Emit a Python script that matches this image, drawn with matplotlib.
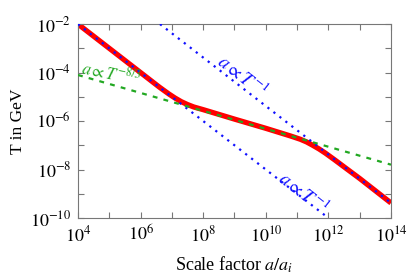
import numpy as np
import matplotlib
matplotlib.use('Agg')
import matplotlib.pyplot as plt

plt.rcParams['font.family'] = ['Liberation Serif', 'DejaVu Serif']
plt.rcParams['mathtext.fontset'] = 'stix'

red_loga = [4, 5, 6, 6.6, 6.9, 7.1, 7.3, 7.5, 7.7, 8, 9, 10, 10.8, 11.1, 11.3,
            11.5, 11.7, 11.9, 12.2, 12.5, 13, 14]
red_logT = [-2, -3, -4, -4.6, -4.88, -5.05, -5.2, -5.32, -5.42, -5.53, -5.92, -6.3,
            -6.62, -6.75, -6.86, -7.0, -7.15, -7.32, -7.6, -7.89, -8.37, -9.38]

# blue dotted guides a ~ T^-1, green dashed guide a ~ T^-8/3
blue1_loga = [4, 12]
blue1_logT = [-2, -10]
blue2_loga = [6.62, 14]
blue2_logT = [-2, -9.38]
green_loga = [4, 14]
green_logT = [-4.1, -7.8]

xticks = list(range(4, 15))
yticks = list(range(-10, -1))

fig = plt.figure(figsize=(4.07, 2.77), dpi=100)
ax = fig.add_axes([0.1916, 0.213, 0.7691, 0.700])

pw = lambda v: 10.0 ** np.asarray(v, dtype=float)

ax.plot(pw(red_loga), pw(red_logT), color='#ff0000', lw=3.8, solid_capstyle='butt',
        solid_joinstyle='round', zorder=2)
ax.plot(pw(blue1_loga), pw(blue1_logT), color='#1010ff', lw=1.6, ls=(0, (1, 2.4)), zorder=3)
ax.plot(pw(blue2_loga), pw(blue2_logT), color='#1010ff', lw=1.6, ls=(0, (1, 2.4)), zorder=3)
ax.plot(pw(green_loga), pw(green_logT), color='#22a822', lw=1.6, ls=(0, (2.2, 2.8)), zorder=3)

ax.set_xscale('log')
ax.set_yscale('log')
ax.set_xlim(1e4, 1e14)
ax.set_ylim(1e-10, 1e-2)

ax.set_xticks([10.0 ** k for k in xticks])
ax.set_xticklabels(['$10^{%d}$' % k if k % 2 == 0 else '' for k in xticks])
ax.set_yticks([10.0 ** k for k in yticks])
ax.set_yticklabels(['$10^{%d}$' % k if k % 2 == 0 else '' for k in yticks])
ax.minorticks_off()
ax.tick_params(which='both', direction='in', length=4, width=0.8, color='#777777',
               top=True, right=True, labelsize=13, pad=5)
for s in ax.spines.values():
    s.set_color('#777777')
    s.set_linewidth(0.8)

ax.set_xlabel('Scale factor $a/a_i$', fontsize=13, labelpad=7)
ax.set_ylabel('T in GeV', fontsize=12.5, labelpad=3)


def angle(lx, ly):
    p = ax.transData.transform(np.column_stack([pw(lx), pw(ly)]))
    return np.degrees(np.arctan2(p[1, 1] - p[0, 1], p[1, 0] - p[0, 0]))


ax.text(10 ** 9.27, 10 ** -4.14, r'$a \propto T^{-1}$', color='#1010ff', fontsize=13.5,
        rotation=angle(blue2_loga, blue2_logT), ha='center', va='center', rotation_mode='anchor')
ax.text(10 ** 11.19, 10 ** -8.93, r'$a \propto T^{-1}$', color='#1010ff', fontsize=13.5,
        rotation=angle(blue1_loga, blue1_logT), ha='center', va='center', rotation_mode='anchor')
ax.text(10 ** 5.07, 10 ** -4.05, r'$a \propto T^{-8/3}$', color='#22a822', fontsize=12,
        rotation=0.75 * angle(green_loga, green_logT), ha='center', va='center',
        rotation_mode='anchor')

fig.savefig('out.png', dpi=100)
